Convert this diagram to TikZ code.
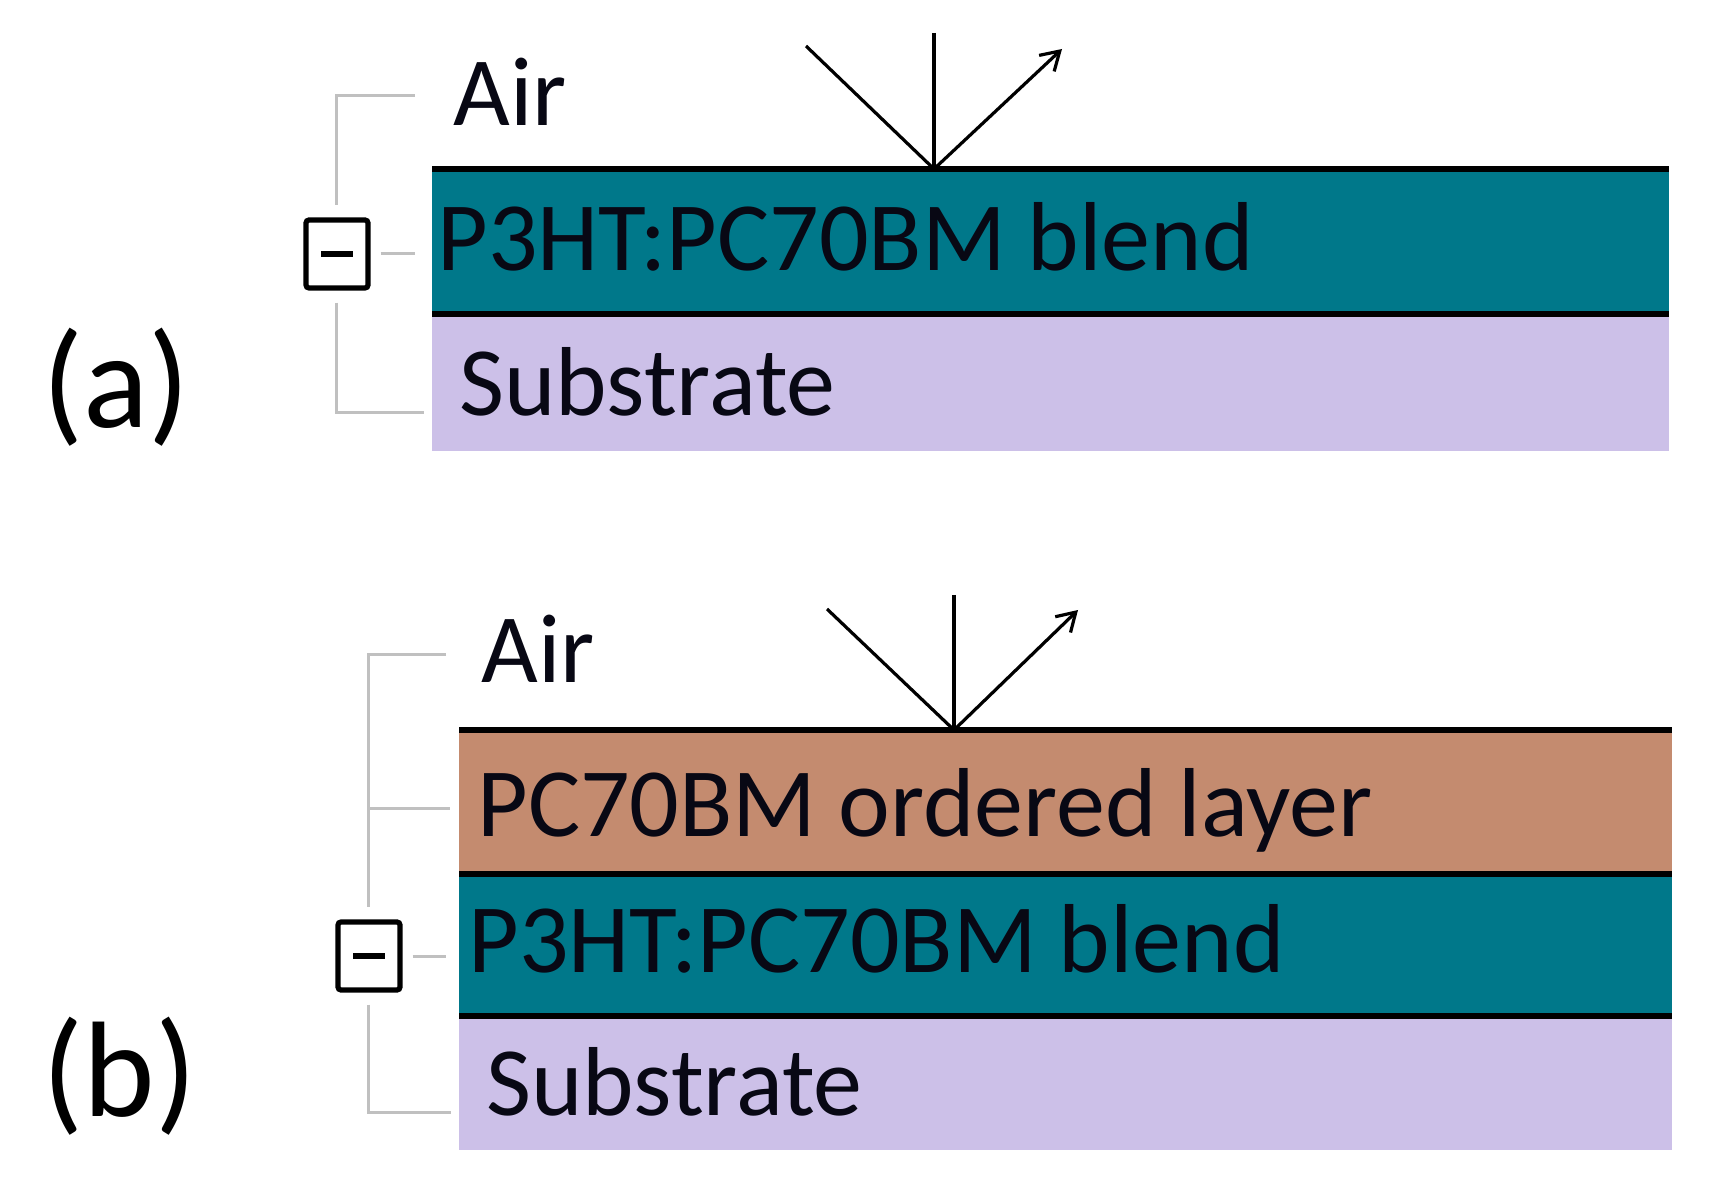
\documentclass[tikz,border=0pt]{standalone}
\usepackage{fontspec}
\setmainfont{Carlito}
\usetikzlibrary{arrows.meta}
\definecolor{teal1}{RGB}{0,120,138}
\definecolor{lav}{RGB}{204,192,232}
\definecolor{orng}{RGB}{196,139,111}
\definecolor{treegray}{RGB}{192,192,192}
\definecolor{txt}{RGB}{8,8,20}
\begin{document}
\begin{tikzpicture}[x=0.5pt,y=-0.5pt,
  lbl/.style={anchor=base west,inner sep=0pt,text=txt,font=\fontsize{49}{55}\selectfont},
  plbl/.style={anchor=base west,inner sep=0pt,text=black,font=\fontsize{68}{74}\selectfont},
  border/.style={line width=3.4pt,black},
  tree/.style={line width=1.5pt,treegray},
  togglebox/.style={draw=black,line width=2.6pt,fill=white,minimum width=31pt,minimum height=34pt,inner sep=0pt,rounded corners=1.5pt},
  ray/.style={line width=1.6pt,black},
  rtip/.style={ray,-{Straight Barb[length=9pt,width=11pt,line width=1.6pt]}}]
\useasboundingbox (0,0) rectangle (1713,1186);

% ---------- panel (a) ----------
\fill[teal1] (432,169) rectangle (1669,314);
\fill[lav] (432,314) rectangle (1669,451);
\draw[border] (432,169) -- (1669,169);
\draw[border] (432,314) -- (1669,314);

\node[lbl] (airA) at (453,126) {Air};
\node[lbl] (blendA) at (437,271) {P3HT:PC70BM blend};
\node[lbl] (subA) at (459,416) {Substrate};
\node[plbl] (labA) at (42,428) {(a)};

\node[togglebox] (boxA) at (337,254) {};
\draw[line width=3pt] ([xshift=-8pt]boxA.center) -- ([xshift=8pt]boxA.center);
\coordinate (tA1) at (336,96);
\coordinate (tA1e) at (415,96);
\coordinate (tA2e) at (415,254);
\coordinate (tA3) at (336,413);
\coordinate (tA3e) at (424,413);
\draw[tree] (tA1e) -- (tA1) -- ([xshift=-0.5pt,yshift=6pt]boxA.north);
\draw[tree] ([xshift=5pt]boxA.east) -- (tA2e);
\draw[tree] ([xshift=-0.5pt,yshift=-6pt]boxA.south) -- (tA3) -- (tA3e);

\coordinate (hitA) at (934,169);
\coordinate (vA) at (934,33);
\coordinate (inA) at (806,46);
\coordinate (outA) at (1062,49);
\draw[ray] (vA) -- (hitA);
\draw[ray] (inA) -- (hitA);
\draw[rtip] (hitA) -- (outA);

% ---------- panel (b) ----------
\fill[orng] (459,730) rectangle (1672,874);
\fill[teal1] (459,874) rectangle (1672,1016);
\fill[lav] (459,1016) rectangle (1672,1150);
\draw[border] (459,730) -- (1672,730);
\draw[border] (459,874) -- (1672,874);
\draw[border] (459,1016) -- (1672,1016);

\node[lbl] (airB) at (481,683) {Air};
\node[lbl] (ordB) at (477,836) {PC70BM ordered layer};
\node[lbl] (blendB) at (468,972) {P3HT:PC70BM blend};
\node[lbl] (subB) at (486,1115) {Substrate};
\node[plbl] (labB) at (42,1116) {(b)};

\node[togglebox] (boxB) at (369,956) {};
\draw[line width=3pt] ([xshift=-8pt]boxB.center) -- ([xshift=8pt]boxB.center);
\coordinate (tB1) at (368,655);
\coordinate (tB1e) at (446,655);
\coordinate (tB2) at (368,808);
\coordinate (tB2e) at (450,808);
\coordinate (tB3e) at (446,956);
\coordinate (tB4) at (368,1112);
\coordinate (tB4e) at (451,1112);
\draw[tree] (tB1e) -- (tB1) -- ([xshift=-0.5pt,yshift=6pt]boxB.north);
\draw[tree] (tB2) -- (tB2e);
\draw[tree] ([xshift=5pt]boxB.east) -- (tB3e);
\draw[tree] ([xshift=-0.5pt,yshift=-6pt]boxB.south) -- (tB4) -- (tB4e);

\coordinate (hitB) at (954,730);
\coordinate (vB) at (954,595);
\coordinate (inB) at (827,609);
\coordinate (outB) at (1078,610);
\draw[ray] (vB) -- (hitB);
\draw[ray] (inB) -- (hitB);
\draw[rtip] (hitB) -- (outB);
\end{tikzpicture}
\end{document}
